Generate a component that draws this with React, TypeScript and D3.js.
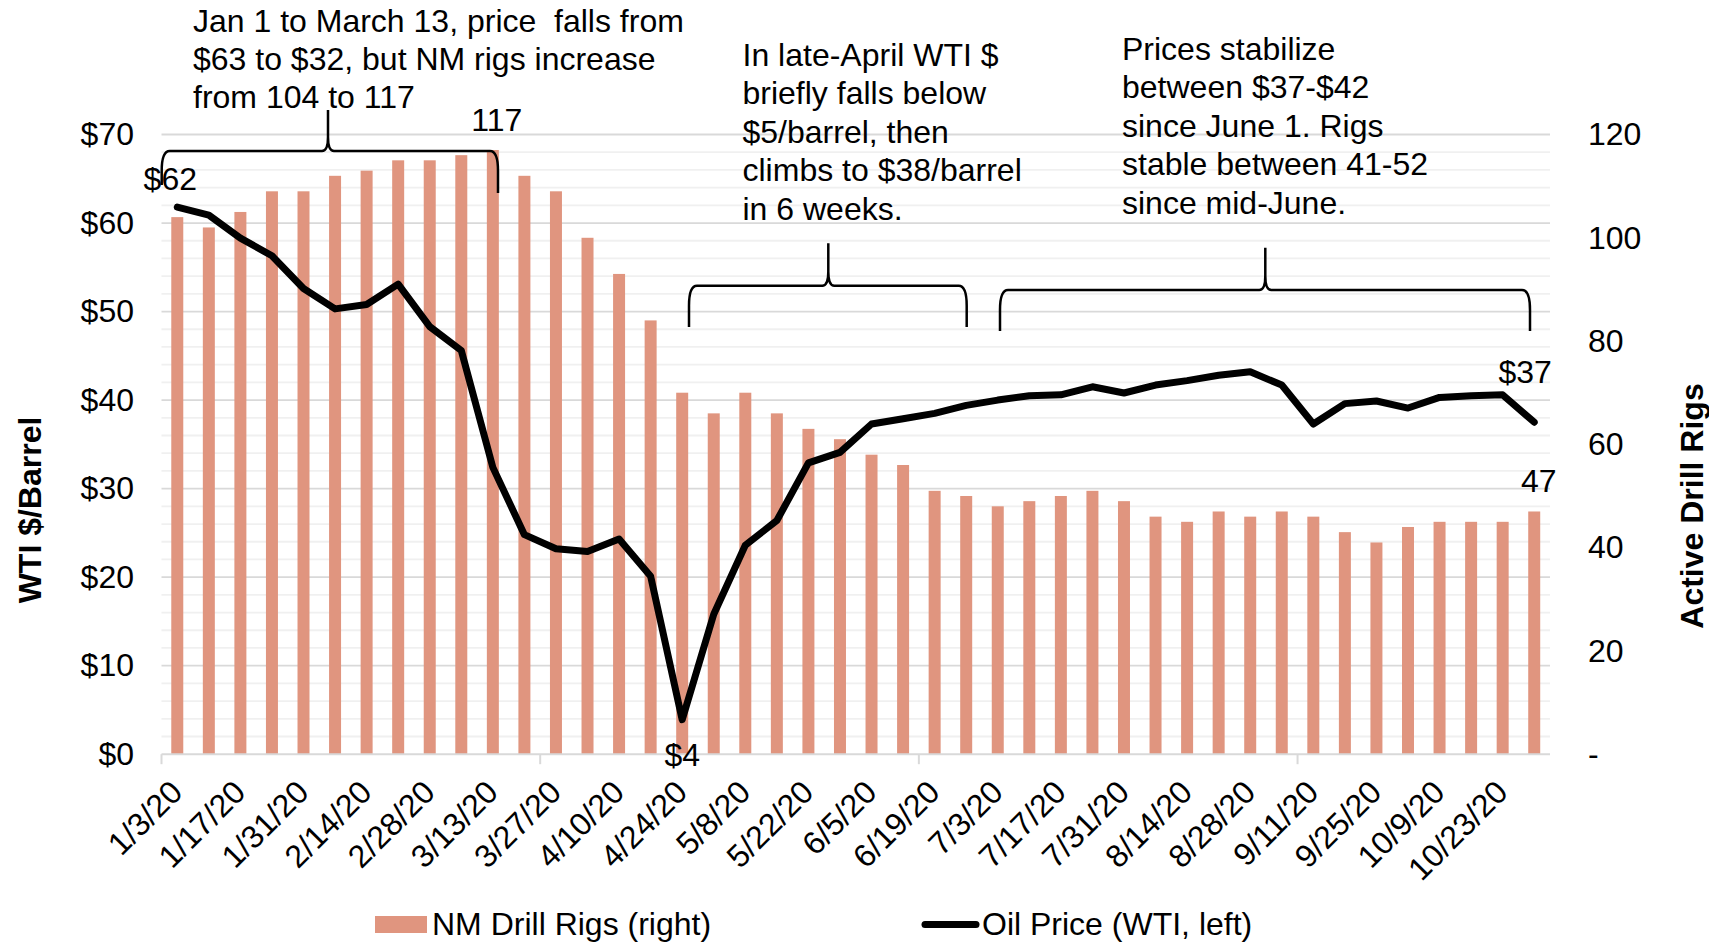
import React, { useEffect, useRef } from "react";
import * as d3 from "d3";

const weeks = [
  "1/3/20", "1/10/20", "1/17/20", "1/24/20", "1/31/20", "2/7/20", "2/14/20", "2/21/20",
  "2/28/20", "3/6/20", "3/13/20", "3/20/20", "3/27/20", "4/3/20", "4/10/20", "4/17/20",
  "4/24/20", "5/1/20", "5/8/20", "5/15/20", "5/22/20", "5/29/20", "6/5/20", "6/12/20",
  "6/19/20", "6/26/20", "7/3/20", "7/10/20", "7/17/20", "7/24/20", "7/31/20", "8/7/20",
  "8/14/20", "8/21/20", "8/28/20", "9/4/20", "9/11/20", "9/18/20", "9/25/20", "10/2/20",
  "10/9/20", "10/16/20", "10/23/20", "10/30/20",
];

// NM drill rigs (right axis)
const rigs = [
  104, 102, 105, 109, 109, 112, 113, 115, 115, 116, 117, 112, 109, 100, 93, 84, 70, 66, 70, 66,
  63, 61, 58, 56, 51, 50, 48, 49, 50, 51, 49, 46, 45, 47, 46, 47, 46, 43, 41, 44, 45, 45, 45, 47,
];

// WTI oil price (left axis)
const wti = [
  61.8, 60.9, 58.3, 56.3, 52.6, 50.3, 50.8, 53.1, 48.3, 45.6, 32.4, 24.8, 23.2, 22.9, 24.3, 20.1,
  3.9, 15.8, 23.6, 26.4, 32.9, 34.1, 37.3, 37.9, 38.5, 39.4, 40.0, 40.5, 40.6, 41.5, 40.8, 41.7,
  42.2, 42.8, 43.2, 41.7, 37.3, 39.6, 39.9, 39.1, 40.3, 40.5, 40.6, 37.5,
];

const leftTicks = [0, 10, 20, 30, 40, 50, 60, 70];
const rightTicks = [0, 20, 40, 60, 80, 100, 120];

const notes = [
  {
    x: 193,
    y: 31.5,
    lines: ["Jan 1 to March 13, price  falls from", "$63 to $32, but NM rigs increase", "from 104 to 117"],
  },
  {
    x: 742.5,
    y: 66,
    lines: ["In late-April WTI $", "briefly falls below", "$5/barrel, then", "climbs to $38/barrel", "in 6 weeks."],
  },
  {
    x: 1122,
    y: 60,
    lines: ["Prices stabilize", "between $37-$42", "since June 1. Rigs", "stable between 41-52", "since mid-June."],
  },
];

const braces = [
  { x1: 161.7, x2: 498, xm: 328, yh: 151, tip: 110, b1: 185, b2: 193 },
  { x1: 689, x2: 966.7, xm: 828.3, yh: 285.7, tip: 243.3, b1: 327, b2: 327 },
  { x1: 1000, x2: 1530, xm: 1265.3, yh: 290, tip: 247.7, b1: 331, b2: 331 },
];

const FONT = "'Liberation Sans', Arial, sans-serif";
const BAR = "#E0957F";

function bracePath(b: typeof braces[number]) {
  const { x1, x2, xm, yh, tip, b1, b2 } = b;
  return [
    `M${x1},${b1}`,
    `L${x1},${yh + 20}`,
    `Q${x1},${yh} ${x1 + 8},${yh}`,
    `L${xm - 6},${yh}`,
    `Q${xm},${yh} ${xm},${yh - 14}`,
    `L${xm},${tip}`,
    `M${xm},${yh - 14}`,
    `Q${xm},${yh} ${xm + 6},${yh}`,
    `L${x2 - 8},${yh}`,
    `Q${x2},${yh} ${x2},${yh + 20}`,
    `L${x2},${b2}`,
  ].join(" ");
}

const App: React.FC = () => {
  const ref = useRef<SVGSVGElement | null>(null);

  useEffect(() => {
    const svg = d3.select(ref.current);
    svg.selectAll("*").remove();

    const left = 161.5;
    const right = 1550;
    const top = 134.5;
    const bottom = 754.2;

    const x = d3.scaleBand().domain(weeks).range([left, right]).paddingInner(0.62).paddingOuter(0.31);
    const yL = d3.scaleLinear().domain([0, 70]).range([bottom, top]);
    const yR = d3.scaleLinear().domain([0, 120]).range([bottom, top]);
    const cx = (i: number) => (x(weeks[i]) || 0) + x.bandwidth() / 2;

    // gridlines, minor every $2, major every $10
    svg
      .append("g")
      .selectAll("line")
      .data(d3.range(2, 71, 2))
      .join("line")
      .attr("x1", left)
      .attr("x2", right)
      .attr("y1", (d) => yL(d))
      .attr("y2", (d) => yL(d))
      .attr("stroke", (d) => (d % 10 === 0 ? "#D9D9D9" : "#F0F0F0"))
      .attr("stroke-width", 1.8);

    // bars
    svg
      .append("g")
      .selectAll("rect")
      .data(rigs)
      .join("rect")
      .attr("x", (_, i) => x(weeks[i])!)
      .attr("y", (d) => yR(d))
      .attr("width", x.bandwidth())
      .attr("height", (d) => bottom - yR(d))
      .attr("fill", BAR);

    // bottom axis line + tick marks every 12 weeks
    svg
      .append("line")
      .attr("x1", left)
      .attr("x2", right)
      .attr("y1", bottom)
      .attr("y2", bottom)
      .attr("stroke", "#D9D9D9")
      .attr("stroke-width", 2);
    const gap = (x.step() - x.bandwidth()) / 2;
    svg
      .append("g")
      .selectAll("line")
      .data(weeks.filter((_, i) => i % 12 === 0))
      .join("line")
      .attr("x1", (d) => x(d)! - gap)
      .attr("x2", (d) => x(d)! - gap)
      .attr("y1", bottom)
      .attr("y2", bottom + 10)
      .attr("stroke", "#D9D9D9")
      .attr("stroke-width", 2);

    // oil price line
    const line = d3
      .line<number>()
      .x((_, i) => cx(i))
      .y((d) => yL(d));
    svg
      .append("path")
      .datum(wti)
      .attr("d", line)
      .attr("fill", "none")
      .attr("stroke", "#000")
      .attr("stroke-width", 7)
      .attr("stroke-linejoin", "round")
      .attr("stroke-linecap", "round");

    // left axis
    const gl = svg
      .append("g")
      .attr("transform", `translate(${left},0)`)
      .call(
        d3
          .axisLeft(yL)
          .tickValues(leftTicks)
          .tickFormat((d) => `$${d}`)
          .tickSize(0)
          .tickPadding(27.5)
      );
    gl.select(".domain").remove();
    gl.selectAll("text").style("font-size", "32px").style("font-family", FONT).attr("fill", "#000");

    // right axis
    const gr = svg
      .append("g")
      .attr("transform", `translate(${right},0)`)
      .call(
        d3
          .axisRight(yR)
          .tickValues(rightTicks)
          .tickFormat((d) => (d === 0 ? "-" : `${d}`))
          .tickSize(0)
          .tickPadding(38)
      );
    gr.select(".domain").remove();
    gr.selectAll("text").style("font-size", "32px").style("font-family", FONT).attr("fill", "#000");

    // x axis labels
    const gx = svg
      .append("g")
      .attr("transform", `translate(0,${bottom})`)
      .call(
        d3
          .axisBottom(x)
          .tickValues(weeks.filter((_, i) => i % 2 === 0))
          .tickSize(0)
      );
    gx.select(".domain").remove();
    gx.selectAll("text")
      .attr("x", 0)
      .attr("y", 0)
      .attr("dy", 0)
      .attr("text-anchor", "end")
      .attr("transform", "translate(7,40) rotate(-45)")
      .style("font-size", "32px")
      .style("font-family", FONT)
      .attr("fill", "#000");

    // axis titles
    svg
      .append("text")
      .attr("transform", `translate(41,510) rotate(-90)`)
      .attr("text-anchor", "middle")
      .style("font-size", "32px")
      .style("font-weight", "bold")
      .style("font-family", FONT)
      .text("WTI $/Barrel");
    svg
      .append("text")
      .attr("transform", `translate(1703,506) rotate(-90)`)
      .attr("text-anchor", "middle")
      .style("font-size", "32px")
      .style("font-weight", "bold")
      .style("font-family", FONT)
      .text("Active Drill Rigs");

    // data labels
    const labels = [
      { x: cx(0) - 7, y: yL(wti[0]) - 17.5, t: "$62" },
      { x: cx(16), y: yL(wti[16]) + 46, t: "$4" },
      { x: cx(43) - 9, y: yL(wti[43]) - 39, t: "$37" },
      { x: cx(10) + 4, y: yR(rigs[10]) - 19, t: "117" },
      { x: cx(43) + 4.5, y: yR(rigs[43]) - 19.5, t: "47" },
    ];
    svg
      .append("g")
      .selectAll("text")
      .data(labels)
      .join("text")
      .attr("x", (d) => d.x)
      .attr("y", (d) => d.y)
      .attr("text-anchor", "middle")
      .style("font-size", "32px")
      .style("font-family", FONT)
      .text((d) => d.t);

    // braces
    svg
      .append("g")
      .selectAll("path")
      .data(braces)
      .join("path")
      .attr("d", (d) => bracePath(d))
      .attr("fill", "none")
      .attr("stroke", "#000")
      .attr("stroke-width", 2.5);

    // annotation notes
    notes.forEach((n) => {
      const t = svg
        .append("text")
        .style("font-size", "32px")
        .style("font-family", FONT)
        .style("white-space", "pre");
      n.lines.forEach((l, i) => {
        t.append("tspan").attr("x", n.x).attr("y", n.y + i * 38.4).text(l);
      });
    });

    // legend
    const lg = svg.append("g").style("font-size", "32px").style("font-family", FONT);
    lg.append("rect").attr("x", 375).attr("y", 916).attr("width", 52).attr("height", 17).attr("fill", BAR);
    lg.append("text").attr("x", 432).attr("y", 935).text("NM Drill Rigs (right)");
    lg.append("line")
      .attr("x1", 925)
      .attr("x2", 976)
      .attr("y1", 924.5)
      .attr("y2", 924.5)
      .attr("stroke", "#000")
      .attr("stroke-width", 7)
      .attr("stroke-linecap", "round");
    lg.append("text").attr("x", 982).attr("y", 935).text("Oil Price (WTI, left)");
  }, []);

  return (
    <div style={{ position: "absolute", left: 0, top: 0 }}>
      <svg ref={ref} width={1709} height={943} style={{ display: "block", background: "#fff" }} />
    </div>
  );
};

export default App;
